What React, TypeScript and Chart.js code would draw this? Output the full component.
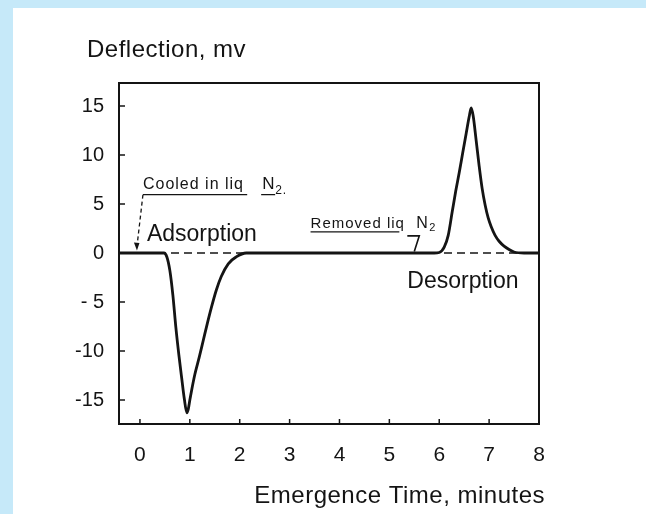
import React, { useEffect, useRef } from "react";
import { Chart, registerables } from "chart.js";

Chart.register(...registerables);

// Trace: emergence time (minutes) vs deflection (mV)
const traceX = [-0.42, 0.4, 0.48, 0.54, 0.6, 0.66, 0.72, 0.78, 0.84, 0.89, 0.94, 0.97, 1.0, 1.04, 1.1, 1.19, 1.27, 1.35, 1.43, 1.53, 1.63, 1.77, 1.93, 2.13, 3, 4, 5, 5.9, 6.0, 6.1, 6.18, 6.26, 6.33, 6.4, 6.47, 6.54, 6.6, 6.64, 6.68, 6.74, 6.8, 6.86, 6.92, 6.98, 7.04, 7.12, 7.2, 7.3, 7.4, 7.5, 7.7, 8];
const traceY = [0, 0, 0, -0.4, -1.8, -4.3, -7.6, -10.4, -12.9, -14.9, -16.3, -15.9, -15.0, -13.9, -12.4, -10.6, -8.9, -7.2, -5.6, -3.8, -2.4, -1.1, -0.4, 0, 0, 0, 0, 0, 0.05, 0.6, 1.8, 4.2, 6.3, 8.2, 10.2, 12.2, 13.9, 14.8, 14.0, 11.5, 8.9, 6.6, 4.9, 3.6, 2.7, 1.8, 1.2, 0.7, 0.35, 0.1, 0, 0];

const baselineX = [-0.42, 8];
const baselineY = [0, 0];

const xTickValues = [0, 1, 2, 3, 4, 5, 6, 7, 8];
const xTickLabels = ["0", "1", "2", "3", "4", "5", "6", "7", "8"];
const yTickValues = [-15, -10, -5, 0, 5, 10, 15];
const yTickLabels = ["-15", "-10", "- 5", "0", "5", "10", "15"];

const yAxisTitle = "Deflection, mv";
const xAxisTitle = "Emergence Time, minutes";
const adsorptionLabel = "Adsorption";
const desorptionLabel = "Desorption";
const cooledLabel = "Cooled in liq";
const removedLabel = "Removed liq";

const FONT = "'Liberation Sans', Arial, sans-serif";
const INK = "#141414";

const decorPlugin = {
  id: "decor",
  afterDatasetsDraw(chart: any) {
    const { ctx, chartArea: a, scales } = chart;
    const xs = scales.x;
    const ys = scales.y;
    const px = (v: number) => xs.getPixelForValue(v);
    const py = (v: number) => ys.getPixelForValue(v);
    ctx.save();
    // frame
    ctx.strokeStyle = INK;
    ctx.lineWidth = 2;
    ctx.strokeRect(a.left, a.top, a.right - a.left, a.bottom - a.top);
    // inner ticks
    ctx.lineWidth = 1.5;
    ctx.beginPath();
    xs.ticks.forEach((t: any) => {
      const x = px(t.value);
      ctx.moveTo(x, a.bottom);
      ctx.lineTo(x, a.bottom - 5);
    });
    ys.ticks.forEach((t: any) => {
      const y = py(t.value);
      ctx.moveTo(a.left, y);
      ctx.lineTo(a.left + 6, y);
    });
    ctx.stroke();

    ctx.fillStyle = INK;
    ctx.textBaseline = "alphabetic";
    // axis titles
    ctx.font = `24px ${FONT}`;
    ctx.textAlign = "left";
    (ctx as any).letterSpacing = "0.5px";
    ctx.fillText(yAxisTitle, a.left - 32, a.top - 26);
    ctx.textAlign = "right";
    ctx.fillText(xAxisTitle, a.right + 6, a.bottom + 79);

    // region labels
    ctx.textAlign = "left";
    ctx.font = `23px ${FONT}`;
    (ctx as any).letterSpacing = "0px";
    ctx.fillText(adsorptionLabel, px(0.14), py(1.2));
    ctx.fillText(desorptionLabel, px(5.36), py(-3.6));

    // Cooled in liq N2.
    ctx.font = `16px ${FONT}`;
    (ctx as any).letterSpacing = "1px";
    const cx = px(0.06);
    const cy = py(6.5);
    ctx.fillText(cooledLabel, cx, cy);
    const nx = px(2.45);
    ctx.font = `17px ${FONT}`;
    ctx.fillText("N", nx, cy);
    ctx.font = `12px ${FONT}`;
    ctx.fillText("2.", nx + 13, cy + 5);
    (ctx as any).letterSpacing = "0px";
    const ulY = py(5.95);
    ctx.lineWidth = 1.3;
    ctx.beginPath();
    ctx.moveTo(cx, ulY);
    ctx.lineTo(px(2.15), ulY);
    ctx.moveTo(nx - 1, ulY);
    ctx.lineTo(nx + 13, ulY);
    ctx.stroke();
    // dashed leader with arrow
    const ax = px(-0.06);
    const ay = py(0.25);
    ctx.setLineDash([4, 3]);
    ctx.beginPath();
    ctx.moveTo(cx, ulY);
    ctx.lineTo(ax, ay - 4);
    ctx.stroke();
    ctx.setLineDash([]);
    ctx.beginPath();
    ctx.moveTo(ax, ay);
    ctx.lineTo(ax - 3, ay - 8);
    ctx.lineTo(ax + 2.5, ay - 7.5);
    ctx.closePath();
    ctx.fill();

    // Removed liq N2
    ctx.font = `15px ${FONT}`;
    (ctx as any).letterSpacing = "1px";
    const rx = px(3.42);
    const ry = py(2.6);
    ctx.fillText(removedLabel, rx, ry);
    const rnx = px(5.54);
    ctx.font = `16px ${FONT}`;
    ctx.fillText("N", rnx, ry);
    ctx.font = `11px ${FONT}`;
    ctx.fillText("2", rnx + 13, ry + 3);
    (ctx as any).letterSpacing = "0px";
    const rulY = py(2.15);
    ctx.lineWidth = 1.3;
    ctx.beginPath();
    ctx.moveTo(rx, rulY);
    ctx.lineTo(px(5.2), rulY);
    ctx.stroke();
    // "7"-shaped arrow
    ctx.lineWidth = 1.6;
    ctx.beginPath();
    ctx.moveTo(px(5.36), py(1.75));
    ctx.lineTo(px(5.6), py(1.75));
    ctx.lineTo(px(5.5), py(0.15));
    ctx.stroke();
    ctx.restore();
  },
};

export default function App() {
  const ref = useRef<HTMLCanvasElement>(null);
  useEffect(() => {
    if (!ref.current) return;
    const trace = traceX.map((x, i) => ({ x, y: traceY[i] }));
    const base = baselineX.map((x, i) => ({ x, y: baselineY[i] }));
    const chart = new Chart(ref.current, {
      type: "line",
      data: {
        datasets: [
          {
            data: base,
            borderColor: INK,
            borderWidth: 1.4,
            borderDash: [8, 5],
            pointRadius: 0,
            fill: false,
          },
          {
            data: trace,
            borderColor: INK,
            borderWidth: 2.8,
            pointRadius: 0,
            cubicInterpolationMode: "monotone",
            fill: false,
          },
        ],
      },
      options: {
        animation: false,
        responsive: false,
        events: [],
        layout: { padding: { left: 0, top: 83, right: 107, bottom: 0 } },
        plugins: { legend: { display: false }, tooltip: { enabled: false }, title: { display: false } },
        scales: {
          x: {
            type: "linear",
            min: -0.42,
            max: 8,
            afterFit: (s: any) => {
              s.height = 90;
            },
            afterBuildTicks: (s: any) => {
              s.ticks = xTickValues.map((v) => ({ value: v }));
            },
            grid: { display: false, drawTicks: false },
            border: { display: false },
            ticks: {
              padding: 19,
              color: INK,
              font: { family: FONT, size: 21 },
              callback: (v: any) => {
                const i = xTickValues.indexOf(Number(v));
                return i >= 0 ? xTickLabels[i] : "";
              },
            },
          },
          y: {
            type: "linear",
            min: -17.45,
            max: 17.35,
            afterFit: (s: any) => {
              s.width = 119;
            },
            afterBuildTicks: (s: any) => {
              s.ticks = yTickValues.map((v) => ({ value: v }));
            },
            grid: { display: false, drawTicks: false },
            border: { display: false },
            ticks: {
              padding: 15,
              color: INK,
              font: { family: FONT, size: 20 },
              callback: (v: any) => {
                const i = yTickValues.indexOf(Number(v));
                return i >= 0 ? yTickLabels[i] : "";
              },
            },
          },
        },
      },
      plugins: [decorPlugin],
    });
    return () => chart.destroy();
  }, []);

  return (
    <div style={{ position: "fixed", left: 0, top: 0, width: 646, height: 514, background: "#c6e9f9", overflow: "hidden" }}>
      <div style={{ position: "absolute", left: 13, top: 8, right: 0, bottom: 0, background: "#ffffff" }} />
      <canvas ref={ref} width={646} height={514} style={{ position: "absolute", left: 0, top: 0, width: 646, height: 514 }} />
    </div>
  );
}
